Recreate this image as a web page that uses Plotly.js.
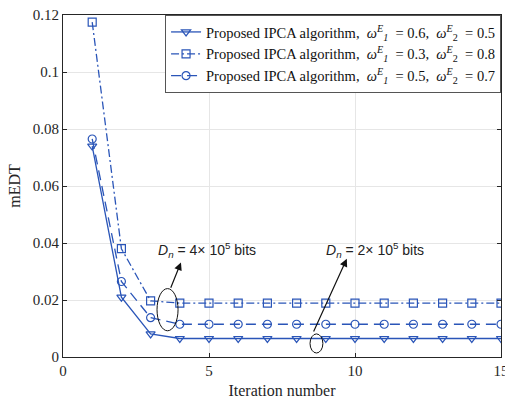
<!DOCTYPE html>
<html><head><meta charset="utf-8">
<script src="https://cdn.plot.ly/plotly-3.0.1.min.js"></script>
<style>body{margin:0;background:#fff}#c{width:505px;height:405px}</style>
</head><body><div id="c"></div>
<script>
const iterations = [1,2,3,4,5,6,7,8,9,10,11,12,13,14,15];
const seriesA = [0.0740,0.0210,0.0081,0.0065,0.0065,0.0065,0.0065,0.0065,0.0065,0.0065,0.0065,0.0065,0.0065,0.0065,0.0065];
const seriesB = [0.1175,0.0380,0.0197,0.0189,0.0189,0.0189,0.0189,0.0189,0.0189,0.0189,0.0189,0.0189,0.0189,0.0189,0.0189];
const seriesC = [0.0765,0.0265,0.0138,0.0115,0.0115,0.0115,0.0115,0.0115,0.0115,0.0115,0.0115,0.0115,0.0115,0.0115,0.0115];
const names = [
  "Proposed IPCA algorithm,  <i>ω</i><sup><i>E</i></sup><sub><i>1</i></sub>  = 0.6,  <i>ω</i><sup><i>E</i></sup><sub>2</sub>  = 0.5",
  "Proposed IPCA algorithm,  <i>ω</i><sup><i>E</i></sup><sub><i>1</i></sub>  = 0.3,  <i>ω</i><sup><i>E</i></sup><sub>2</sub>  = 0.8",
  "Proposed IPCA algorithm,  <i>ω</i><sup><i>E</i></sup><sub><i>1</i></sub>  = 0.5,  <i>ω</i><sup><i>E</i></sup><sub>2</sub>  = 0.7"
];
const xTicks = [0,5,10,15];
const yTicks = [0,0.02,0.04,0.06,0.08,0.1,0.12];
const yTickText = ["0","0.02","0.04","0.06","0.08","0.1","0.12"];

const serif = "Times New Roman, Liberation Serif, DejaVu Serif, serif";
const sans = "Arial, Liberation Sans, sans-serif";
const blue = "#2a55b8";
const mk = (sym) => ({symbol: sym, size: 8, color: blue, line: {color: blue, width: 1.2}});
const traces = [
  {x: iterations, y: seriesA, name: names[0], mode: "lines+markers", line: {color: blue, width: 1.3, dash: "solid"}, marker: mk("triangle-down-open")},
  {x: iterations, y: seriesB, name: names[1], mode: "lines+markers", line: {color: blue, width: 1.3, dash: "8px,3px,2px,3px"}, marker: mk("square-open")},
  {x: iterations, y: seriesC, name: names[2], mode: "lines+markers", line: {color: blue, width: 1.3, dash: "10px,6px"}, marker: mk("circle-open")}
];
const axCol = "#262626";
const layout = {
  width: 505, height: 405,
  margin: {l: 63, r: 4, t: 15, b: 48, autoexpand: false},
  paper_bgcolor: "#fff", plot_bgcolor: "#fff",
  font: {family: serif, color: axCol, size: 15},
  showlegend: true,
  legend: {x: 0.233, y: 1, xanchor: "left", yanchor: "top", bgcolor: "#fff", bordercolor: "#555", borderwidth: 1,
           font: {family: serif, size: 14.5, color: "#111"}, tracegroupgap: 0},
  xaxis: {range: [0,15], tickvals: xTicks, ticks: "inside", ticklen: 4, tickcolor: axCol, showline: true, linecolor: axCol, linewidth: 1, mirror: "ticks",
          showgrid: true, gridcolor: "#e6e6e6", zeroline: false, tickfont: {family: serif, size: 15, color: axCol}, ticklabeloverflow: "allow",
          title: {text: "Iteration number", font: {family: serif, size: 16, color: axCol}, standoff: 6}},
  yaxis: {range: [0,0.12], tickvals: yTicks, ticktext: yTickText, ticks: "inside", ticklen: 4, tickcolor: axCol, showline: true, linecolor: axCol, linewidth: 1, mirror: "ticks",
          showgrid: true, gridcolor: "#e6e6e6", zeroline: false, tickfont: {family: serif, size: 15, color: axCol}, ticklabeloverflow: "allow",
          title: {text: "mEDT", font: {family: serif, size: 16, color: axCol}, standoff: 8}},
  shapes: [
    {type: "circle", xref: "x", yref: "y", x0: 3.22, x1: 3.94, y0: 0.0092, y1: 0.0240, line: {color: "#111", width: 1}},
    {type: "circle", xref: "x", yref: "y", x0: 8.46, x1: 8.90, y0: 0.0014, y1: 0.0081, line: {color: "#111", width: 1}}
  ],
  annotations: [
    {x: 4.04, y: 0.0332, ax: 3.67, ay: 0.0238, xref: "x", yref: "y", axref: "x", ayref: "y", text: "", showarrow: true, arrowhead: 2, arrowsize: 1.3, arrowwidth: 1.2, arrowcolor: "#111"},
    {x: 9.72, y: 0.0345, ax: 8.56, ay: 0.0084, xref: "x", yref: "y", axref: "x", ayref: "y", text: "", showarrow: true, arrowhead: 2, arrowsize: 1.3, arrowwidth: 1.2, arrowcolor: "#111"},
    {x: 3.2, y: 0.0375, xref: "x", yref: "y", xanchor: "left", yanchor: "middle", showarrow: false,
     text: "<i>D</i><sub><i>n</i></sub> = 4× 10<sup>5</sup> bits", font: {family: sans, size: 14, color: "#222"}},
    {x: 8.95, y: 0.0375, xref: "x", yref: "y", xanchor: "left", yanchor: "middle", showarrow: false,
     text: "<i>D</i><sub><i>n</i></sub> = 2× 10<sup>5</sup> bits", font: {family: sans, size: 14, color: "#222"}}
  ]
};
Plotly.newPlot("c", traces, layout, {displayModeBar: false, staticPlot: true});
</script></body></html>
